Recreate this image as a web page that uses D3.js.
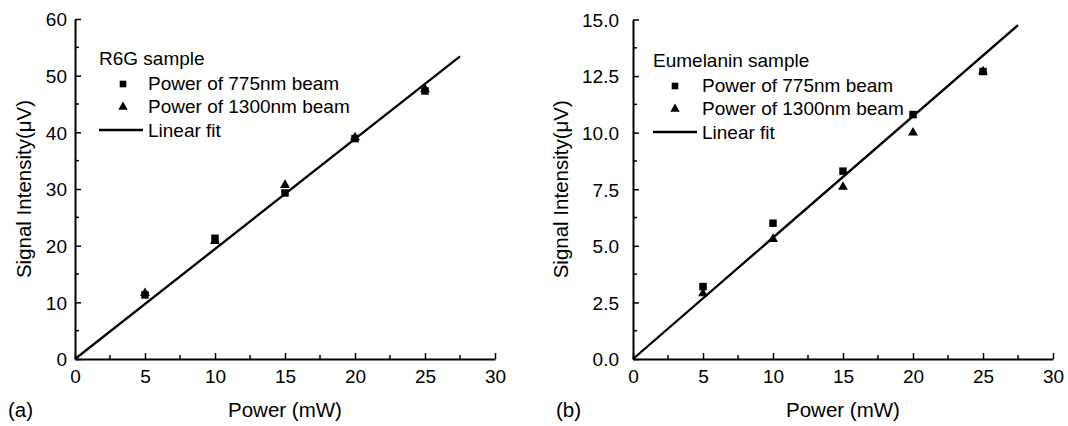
<!DOCTYPE html>
<html>
<head>
<meta charset="utf-8">
<script src="https://cdn.jsdelivr.net/npm/d3@7"></script>
<style>
  body { margin: 0; background: #fff; }
  svg { display: block; font-family: "Liberation Sans", Arial, sans-serif; }
</style>
</head>
<body>
<svg id="chart" width="1068" height="426"></svg>
<script>
// power levels (mW) for both samples
const power = [5, 10, 15, 20, 25];

// (a) R6G sample, signal in uV
const r6g775 = [11.3, 21.3, 29.3, 38.9, 47.3];
const r6g1300 = [11.6, 20.8, 30.7, 39.1, 47.6];

// (b) Eumelanin sample, signal in uV
const eum775 = [3.2, 6.0, 8.3, 10.8, 12.7];
const eum1300 = [2.9, 5.3, 7.6, 10.0, 12.7];

// linear fit end points
const fitX = [0, 27.5];
const r6gFitY = [0, 53.4];
const eumFitY = [0, 14.75];

const xTicks = [0, 5, 10, 15, 20, 25, 30];
const r6gTicks = [0, 10, 20, 30, 40, 50, 60];
const eumTicks = [0, 2.5, 5, 7.5, 10, 12.5, 15];

const svg = d3.select("#chart");

function drawPanel(p) {
  const x = d3.scaleLinear().domain([0, 30]).range([p.left, p.right]);
  const y = d3.scaleLinear().domain([0, p.yMax]).range([p.bottom, p.top]);
  const g = svg.append("g");

  // minor ticks (inward, halfway between majors)
  const xMinor = d3.range(2.5, 30, 5);
  const yMinor = d3.range(p.yMinorStep, p.yMax, p.yMinorStep * 2);

  g.selectAll(".xm").data(xMinor).enter().append("line")
    .attr("x1", (d) => x(d)).attr("x2", (d) => x(d))
    .attr("y1", p.bottom).attr("y2", p.bottom - 4)
    .attr("stroke", "#000").attr("stroke-width", 1.5);
  g.selectAll(".ym").data(yMinor).enter().append("line")
    .attr("y1", (d) => y(d)).attr("y2", (d) => y(d))
    .attr("x1", p.left).attr("x2", p.left + 4)
    .attr("stroke", "#000").attr("stroke-width", 1.5);

  const xAxis = g.append("g")
    .attr("transform", `translate(0,${p.bottom})`)
    .call(d3.axisBottom(x).tickValues(xTicks).tickSizeInner(-6).tickSizeOuter(0).tickPadding(11));
  const yAxis = g.append("g")
    .attr("transform", `translate(${p.left},0)`)
    .call(d3.axisLeft(y).tickValues(p.yTicks).tickFormat(p.fmt).tickSizeInner(-6).tickSizeOuter(0).tickPadding(p.yPad));

  [xAxis, yAxis].forEach((a) => {
    a.select(".domain").attr("stroke-width", 2);
    a.selectAll(".tick line").attr("stroke-width", 1.5);
    a.selectAll("text").attr("font-size", 19).attr("font-family", null).attr("fill", "#000");
  });
  yAxis.selectAll("text").attr("dy", "0.36em");

  // linear fit
  const line = d3.line().x((d) => x(d[0])).y((d) => y(d[1]));
  g.append("path")
    .datum(fitX.map((v, i) => [v, p.fitY[i]]))
    .attr("d", line)
    .attr("fill", "none").attr("stroke", "#000").attr("stroke-width", 2.3);

  const sq = d3.symbol().type(d3.symbolSquare).size(56);
  const tri = d3.symbol().type(d3.symbolTriangle).size(42);

  g.selectAll(".sq").data(power.map((v, i) => [v, p.s775[i]])).enter().append("path")
    .attr("d", sq).attr("transform", (d) => `translate(${x(d[0])},${y(d[1])})`);
  g.selectAll(".tr").data(power.map((v, i) => [v, p.s1300[i]])).enter().append("path")
    .attr("d", tri).attr("transform", (d) => `translate(${x(d[0])},${y(d[1])})`);

  // legend
  const L = p.legend;
  g.append("text").attr("x", L.x).attr("y", L.y).attr("font-size", 19).text(p.sample);
  g.append("path").attr("d", d3.symbol().type(d3.symbolSquare).size(44))
    .attr("transform", `translate(${L.mx},${L.y + 19})`);
  g.append("text").attr("x", L.tx).attr("y", L.y + 24.5).attr("font-size", 19).text("Power of 775nm beam");
  g.append("path").attr("d", d3.symbol().type(d3.symbolTriangle).size(38))
    .attr("transform", `translate(${L.mx},${L.y + 42})`);
  g.append("text").attr("x", L.tx).attr("y", L.y + 48).attr("font-size", 19).text("Power of 1300nm beam");
  g.append("line").attr("x1", L.x).attr("x2", L.tx - 5)
    .attr("y1", L.y + 65).attr("y2", L.y + 65)
    .attr("stroke", "#000").attr("stroke-width", 2.3);
  g.append("text").attr("x", L.tx).attr("y", L.y + 72).attr("font-size", 19).text("Linear fit");

  // axis titles and panel tag
  g.append("text").attr("x", (p.left + p.right) / 2).attr("y", 417)
    .attr("text-anchor", "middle").attr("font-size", 20.5).text("Power (mW)");
  g.append("text")
    .attr("transform", `translate(${p.yTitleX},${(p.top + p.bottom) / 2}) rotate(-90)`)
    .attr("text-anchor", "middle").attr("font-size", 20.5).text("Signal Intensity(\u03bcV)");
  g.append("text").attr("x", p.tagX).attr("y", 417).attr("font-size", 20.5).text(p.tag);
}

drawPanel({
  left: 75, right: 495, top: 19, bottom: 359,
  yMax: 60, yMinorStep: 5, yTicks: r6gTicks, fmt: d3.format("d"), yPad: 8,
  s775: r6g775, s1300: r6g1300, fitY: r6gFitY,
  sample: "R6G sample",
  legend: { x: 99, y: 65, mx: 123, tx: 148 },
  yTitleX: 31, tag: "(a)", tagX: 8
});

drawPanel({
  left: 633, right: 1053, top: 19.5, bottom: 359,
  yMax: 15, yMinorStep: 1.25, yTicks: eumTicks, fmt: d3.format(".1f"), yPad: 14,
  s775: eum775, s1300: eum1300, fitY: eumFitY,
  sample: "Eumelanin sample",
  legend: { x: 653, y: 67, mx: 675, tx: 702 },
  yTitleX: 568, tag: "(b)", tagX: 556
});
</script>
</body>
</html>
